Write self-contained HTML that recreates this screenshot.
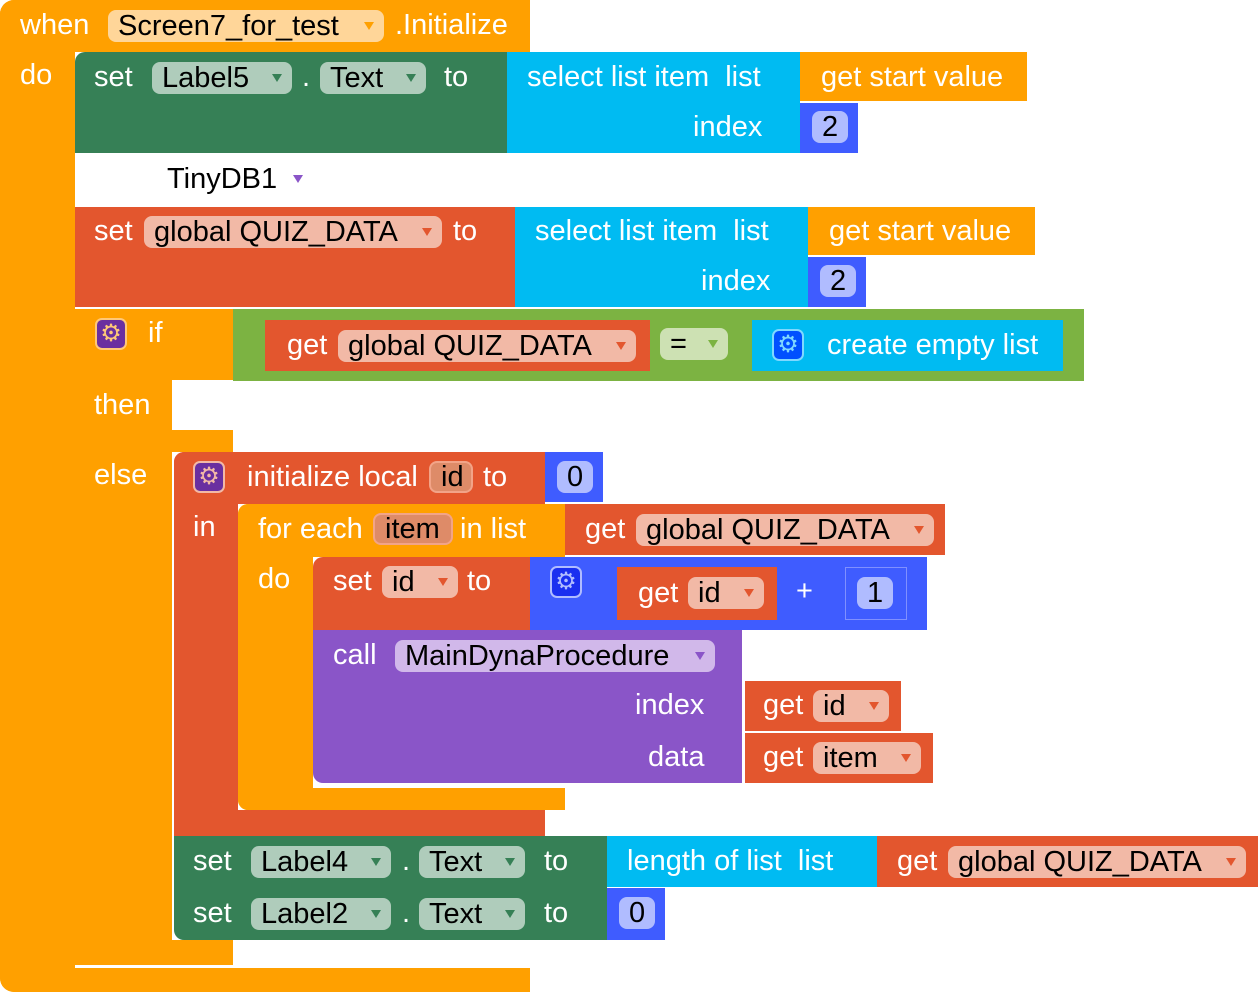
<!DOCTYPE html>
<html><head><meta charset="utf-8"><style>
body{margin:0;width:1260px;height:992px;background:#fff;position:relative;overflow:hidden;font-family:"Liberation Sans",sans-serif}
.b{position:absolute}
.t{position:absolute;color:#fff;font-size:29px;line-height:30px;white-space:pre}
.p{position:absolute;height:32px;border-radius:8px;font-size:29px;line-height:32px;color:#000;padding-left:10px;box-sizing:border-box;white-space:pre}
.p i{position:absolute;right:10px;top:12px;width:0;height:0;border-left:5px solid transparent;border-right:5px solid transparent;border-top:8px solid}
.g{position:absolute;width:32px;height:32px;border-radius:7px;box-sizing:border-box;border:2px solid;font-size:24px;line-height:28px;text-align:center}
.O{background:#FFA000}.G{background:#368056}.R{background:#E3562E}.C{background:#00BBF2}.B{background:#3F5CFF}.P{background:#8A55C8}.L{background:#7CB342}
</style></head><body>
<!-- event -->
<div class="b O" style="left:0;top:0;width:530px;height:52px;border-top-left-radius:14px"></div>
<div class="b O" style="left:0;top:0;width:75px;height:992px;border-radius:14px 0 0 14px"></div>
<div class="b O" style="left:0;top:968px;width:530px;height:24px;border-bottom-left-radius:14px"></div>
<div class="t" style="left:20px;top:10px">when</div>
<div class="p" style="left:108px;top:10px;width:276px;background:#FFD699">Screen7_for_test<i style="color:#FFA000"></i></div>
<div class="t" style="left:395px;top:10px">.Initialize</div>
<div class="t" style="left:20px;top:60px">do</div>

<!-- set Label5 -->
<div class="b G" style="left:75px;top:52px;width:432px;height:101px;border-top-left-radius:10px"></div>
<div class="t" style="left:94px;top:62px">set</div>
<div class="p" style="left:152px;top:62px;width:140px;background:#AFCCBB">Label5<i style="color:#368056"></i></div>
<div class="t" style="left:302px;top:62px">.</div>
<div class="p" style="left:320px;top:62px;width:106px;background:#AFCCBB">Text<i style="color:#368056"></i></div>
<div class="t" style="left:444px;top:62px">to</div>
<div class="b C" style="left:507px;top:52px;width:293px;height:101px"></div>
<div class="t" style="left:527px;top:62px">select list item  list</div>
<div class="t" style="left:693px;top:112px">index</div>
<div class="b O" style="left:800px;top:52px;width:227px;height:49px"></div>
<div class="t" style="left:821px;top:62px">get start value</div>
<div class="b B" style="left:800px;top:103px;width:58px;height:50px"></div>
<div class="p" style="left:812px;top:111px;width:36px;background:#B0BCFF">2</div>
<div class="t" style="left:167px;top:164px;color:#000">TinyDB1</div>
<div class="b" style="left:293px;top:175px;width:0;height:0;border-left:5px solid transparent;border-right:5px solid transparent;border-top:8px solid #8A55C8"></div>

<!-- set global -->
<div class="b R" style="left:75px;top:207px;width:440px;height:100px"></div>
<div class="t" style="left:94px;top:216px">set</div>
<div class="p" style="left:144px;top:216px;width:298px;background:#F2B9A6">global QUIZ_DATA<i style="color:#E3562E"></i></div>
<div class="t" style="left:453px;top:216px">to</div>
<div class="b C" style="left:515px;top:207px;width:293px;height:100px"></div>
<div class="t" style="left:535px;top:216px">select list item  list</div>
<div class="t" style="left:701px;top:266px">index</div>
<div class="b O" style="left:808px;top:207px;width:227px;height:48px"></div>
<div class="t" style="left:829px;top:216px">get start value</div>
<div class="b B" style="left:808px;top:257px;width:58px;height:50px"></div>
<div class="p" style="left:820px;top:265px;width:36px;background:#B0BCFF">2</div>

<!-- if -->
<div class="b O" style="left:75px;top:309px;width:158px;height:71px"></div>
<div class="b O" style="left:75px;top:309px;width:97px;height:656px"></div>
<div class="b O" style="left:75px;top:430px;width:158px;height:22px"></div>
<div class="b O" style="left:75px;top:940px;width:158px;height:25px;border-bottom-left-radius:10px"></div>
<div class="b" style="left:172px;top:380px;width:61px;height:50px;background:#fff;border-radius:10px 0 0 10px"></div>
<div class="g" style="left:95px;top:318px;background:#6A2FA0;border-color:#FFC878;color:#FFC878">⚙</div>
<div class="t" style="left:148px;top:318px">if</div>
<div class="t" style="left:94px;top:390px">then</div>
<div class="t" style="left:94px;top:460px">else</div>
<div class="b L" style="left:233px;top:309px;width:851px;height:72px"></div>
<div class="b R" style="left:265px;top:320px;width:385px;height:51px"></div>
<div class="t" style="left:287px;top:330px">get</div>
<div class="p" style="left:338px;top:330px;width:298px;background:#F2B9A6">global QUIZ_DATA<i style="color:#E3562E"></i></div>
<div class="p" style="left:660px;top:328px;width:68px;background:#CDE1B3">=<i style="color:#7CB342"></i></div>
<div class="b C" style="left:752px;top:320px;width:311px;height:51px"></div>
<div class="g" style="left:772px;top:329px;background:#0050FF;border-color:#7FD8FF;color:#7FD8FF">⚙</div>
<div class="t" style="left:827px;top:330px">create empty list</div>

<!-- initialize local -->
<div class="b R" style="left:174px;top:452px;width:371px;height:52px;border-top-left-radius:10px"></div>
<div class="b R" style="left:174px;top:452px;width:64px;height:384px;border-top-left-radius:10px"></div>
<div class="b R" style="left:174px;top:810px;width:371px;height:26px"></div>
<div class="g" style="left:193px;top:461px;background:#6A2FA0;border-color:#F2B9A6;color:#F2B9A6">⚙</div>
<div class="t" style="left:247px;top:462px">initialize local</div>
<div class="p" style="left:429px;top:461px;width:44px;background:#DE8B68;border:2px solid #F2A488;line-height:28px">id</div>
<div class="t" style="left:483px;top:462px">to</div>
<div class="b B" style="left:545px;top:452px;width:58px;height:50px"></div>
<div class="p" style="left:557px;top:461px;width:36px;background:#B0BCFF">0</div>
<div class="t" style="left:193px;top:512px">in</div>

<!-- for each -->
<div class="b O" style="left:238px;top:504px;width:327px;height:53px;border-top-left-radius:10px"></div>
<div class="b O" style="left:238px;top:504px;width:75px;height:306px;border-radius:10px 0 0 10px"></div>
<div class="b O" style="left:238px;top:788px;width:327px;height:22px;border-bottom-left-radius:10px"></div>
<div class="t" style="left:258px;top:514px">for each</div>
<div class="p" style="left:373px;top:513px;width:80px;background:#DE8B68;border:2px solid #F2A488;line-height:28px">item</div>
<div class="t" style="left:460px;top:514px">in list</div>
<div class="b R" style="left:565px;top:504px;width:380px;height:51px"></div>
<div class="t" style="left:585px;top:514px">get</div>
<div class="p" style="left:636px;top:514px;width:298px;background:#F2B9A6">global QUIZ_DATA<i style="color:#E3562E"></i></div>
<div class="t" style="left:258px;top:564px">do</div>

<!-- set id -->
<div class="b R" style="left:313px;top:557px;width:217px;height:73px;border-top-left-radius:10px"></div>
<div class="t" style="left:333px;top:566px">set</div>
<div class="p" style="left:382px;top:566px;width:76px;background:#F2B9A6">id<i style="color:#E3562E"></i></div>
<div class="t" style="left:467px;top:566px">to</div>
<div class="b B" style="left:530px;top:557px;width:397px;height:73px"></div>
<div class="g" style="left:550px;top:566px;background:#1A2FF0;border-color:#B0BCFF;color:#B0BCFF">⚙</div>
<div class="b R" style="left:617px;top:567px;width:160px;height:53px"></div>
<div class="t" style="left:638px;top:578px">get</div>
<div class="p" style="left:688px;top:577px;width:76px;background:#F2B9A6">id<i style="color:#E3562E"></i></div>
<div class="t" style="left:796px;top:576px">+</div>
<div class="b" style="left:845px;top:567px;width:62px;height:53px;background:#3F5CFF;border:1px solid #8090FF;box-sizing:border-box"></div>
<div class="p" style="left:857px;top:577px;width:36px;background:#B0BCFF">1</div>

<!-- call -->
<div class="b P" style="left:313px;top:630px;width:429px;height:153px;border-bottom-left-radius:10px"></div>
<div class="t" style="left:333px;top:640px">call</div>
<div class="p" style="left:395px;top:640px;width:320px;background:#D1B8EA">MainDynaProcedure<i style="color:#8A55C8"></i></div>
<div class="t" style="left:635px;top:690px">index</div>
<div class="t" style="left:648px;top:742px">data</div>
<div class="b R" style="left:745px;top:681px;width:156px;height:50px"></div>
<div class="t" style="left:763px;top:690px">get</div>
<div class="p" style="left:813px;top:690px;width:76px;background:#F2B9A6">id<i style="color:#E3562E"></i></div>
<div class="b R" style="left:745px;top:733px;width:188px;height:50px"></div>
<div class="t" style="left:763px;top:742px">get</div>
<div class="p" style="left:813px;top:742px;width:108px;background:#F2B9A6">item<i style="color:#E3562E"></i></div>

<!-- Label4 -->
<div class="b G" style="left:174px;top:836px;width:433px;height:52px"></div>
<div class="t" style="left:193px;top:846px">set</div>
<div class="p" style="left:251px;top:846px;width:140px;background:#AFCCBB">Label4<i style="color:#368056"></i></div>
<div class="t" style="left:402px;top:846px">.</div>
<div class="p" style="left:419px;top:846px;width:106px;background:#AFCCBB">Text<i style="color:#368056"></i></div>
<div class="t" style="left:544px;top:846px">to</div>
<div class="b C" style="left:607px;top:836px;width:270px;height:51px"></div>
<div class="t" style="left:627px;top:846px">length of list  list</div>
<div class="b R" style="left:877px;top:836px;width:381px;height:51px"></div>
<div class="t" style="left:897px;top:846px">get</div>
<div class="p" style="left:948px;top:846px;width:298px;background:#F2B9A6">global QUIZ_DATA<i style="color:#E3562E"></i></div>

<!-- Label2 -->
<div class="b G" style="left:174px;top:888px;width:433px;height:52px;border-bottom-left-radius:10px"></div>
<div class="t" style="left:193px;top:898px">set</div>
<div class="p" style="left:251px;top:898px;width:140px;background:#AFCCBB">Label2<i style="color:#368056"></i></div>
<div class="t" style="left:402px;top:898px">.</div>
<div class="p" style="left:419px;top:898px;width:106px;background:#AFCCBB">Text<i style="color:#368056"></i></div>
<div class="t" style="left:544px;top:898px">to</div>
<div class="b B" style="left:607px;top:888px;width:58px;height:52px"></div>
<div class="p" style="left:619px;top:897px;width:36px;background:#B0BCFF">0</div>
</body></html>
